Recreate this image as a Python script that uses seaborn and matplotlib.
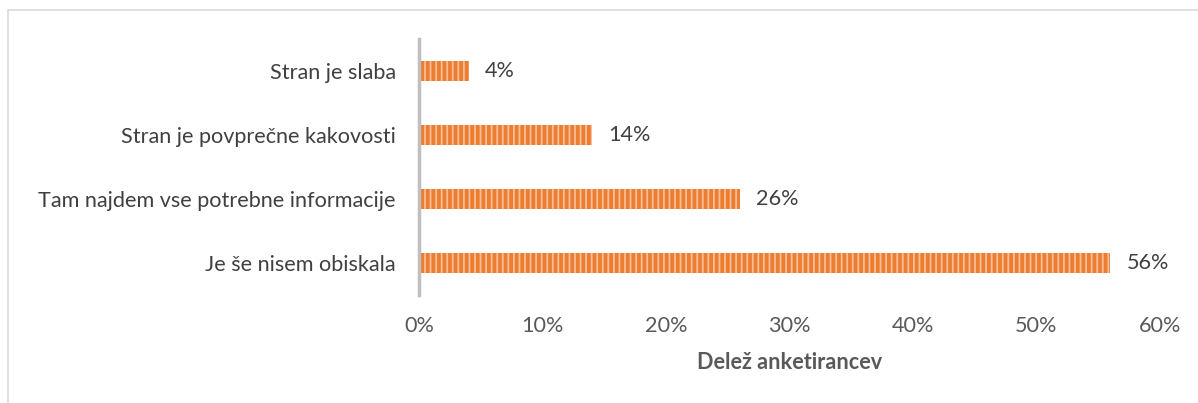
import matplotlib
matplotlib.use("Agg")
import matplotlib.pyplot as plt
from matplotlib.patches import Rectangle
from matplotlib.ticker import FuncFormatter
import seaborn as sns
import pandas as pd

categories = [
    "Stran je slaba",
    "Stran je povprečne kakovosti",
    "Tam najdem vse potrebne informacije",
    "Je še nisem obiskala",
]
shares = [4, 14, 26, 56]
x_ticks = [0, 10, 20, 30, 40, 50, 60]

df = pd.DataFrame({"odgovor": categories, "delez": shares})

sns.set_theme(style="white")
plt.rcParams["font.family"] = ["Lato", "DejaVu Sans"]
plt.rcParams["hatch.linewidth"] = 1.3

FS = 15.6

fig = plt.figure(figsize=(11.98, 4.03), dpi=100)
ax = fig.add_axes([0.35, 0.268, 0.618, 0.635])

sns.barplot(data=df, y="odgovor", x="delez", orient="h", ax=ax,
            color="#ED7D31", width=0.3, saturation=1)
for bar in ax.patches:
    bar.set_hatch("|||")
    bar.set_edgecolor("#F7BE98")
    bar.set_linewidth(0)

for bar, v in zip(ax.patches, shares):
    ax.text(bar.get_width() + 1.3, bar.get_y() + bar.get_height() / 2,
            f"{v}%", va="center", ha="left", fontsize=FS, color="#404040")

ax.set_xlim(0, 60)
ax.set_xticks(x_ticks)
ax.xaxis.set_major_formatter(FuncFormatter(lambda v, p: f"{v:.0f}%"))
ax.tick_params(axis="x", labelsize=FS, colors="#595959", length=0, pad=15)
ax.tick_params(axis="y", labelsize=FS, colors="#404040", length=0, pad=17)
ax.set_ylabel("")
ax.set_xlabel("Delež anketirancev", fontsize=FS, fontweight="bold",
              color="#595959", labelpad=12)

for side in ["top", "right", "bottom"]:
    ax.spines[side].set_visible(False)
ax.spines["left"].set_color("#BFBFBF")
ax.spines["left"].set_linewidth(2.5)
ax.grid(False)

# outer chart frame
fig.patches.append(Rectangle((8 / 1198, -0.1), 1.2, 1 - 10 / 403 + 0.1,
                             transform=fig.transFigure, fill=False,
                             edgecolor="#D9D9D9", linewidth=1.2))

fig.savefig("out.png", dpi=100)
